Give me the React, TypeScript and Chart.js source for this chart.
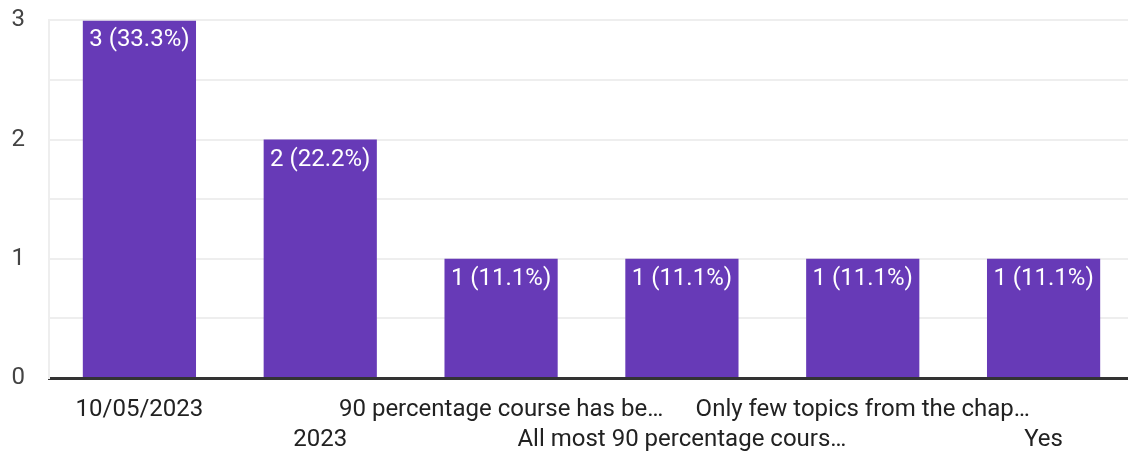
import React, { useEffect, useRef } from "react";
import { Chart, registerables } from "chart.js";

Chart.register(...registerables);

const categories: string[][] = [
  ["10/05/2023", ""],
  ["", "2023"],
  ["90 percentage course has be…", ""],
  ["", "All most 90 percentage cours…"],
  ["Only few topics from the chap…", ""],
  ["", "Yes"],
];
const counts: number[] = [3, 2, 1, 1, 1, 1];
const barLabels: string[] = ["3 (33.3%)", "2 (22.2%)", "1 (11.1%)", "1 (11.1%)", "1 (11.1%)", "1 (11.1%)"];
const yTicks: number[] = [0, 1, 2, 3];

const FONT = "Roboto, Arial, sans-serif";

const barLabelPlugin = {
  id: "barLabelPlugin",
  afterDatasetsDraw(chart: any) {
    const ctx = chart.ctx;
    const meta = chart.getDatasetMeta(0);
    ctx.save();
    ctx.fillStyle = "#ffffff";
    ctx.font = `24px ${FONT}`;
    ctx.textAlign = "center";
    ctx.textBaseline = "top";
    meta.data.forEach((el: any, i: number) => {
      ctx.fillText(barLabels[i], el.x, el.y + 8);
    });
    ctx.restore();
  },
};

export default function App() {
  const ref = useRef<HTMLCanvasElement | null>(null);
  useEffect(() => {
    if (!ref.current) return;
    const chart = new Chart(ref.current, {
      type: "bar",
      data: {
        labels: categories,
        datasets: [
          {
            data: counts,
            backgroundColor: "#673ab7",
            borderWidth: 0,
            categoryPercentage: 1,
            barPercentage: 0.626,
          },
        ],
      },
      options: {
        animation: false,
        responsive: true,
        maintainAspectRatio: false,
        layout: { padding: { top: 0, right: 0, left: 0, bottom: 0 } },
        plugins: { legend: { display: false }, tooltip: { enabled: false } },
        scales: {
          x: {
            grid: { display: false, drawTicks: false },
            border: { display: true, color: "#333333", width: 3 },
            ticks: {
              autoSkip: false,
              maxRotation: 0,
              minRotation: 0,
              padding: 17,
              color: "#222222",
              font: { family: FONT, size: 24, lineHeight: 1.25 },
            },
            afterFit: (s: any) => {
              s.height = 74;
            },
          },
          y: {
            min: 0,
            max: 3,
            grid: { color: "#eeeeee", lineWidth: 2, drawTicks: false },
            border: { display: true, color: "#eeeeee", width: 2 },
            ticks: {
              stepSize: 0.5,
              padding: 24,
              color: "#444444",
              font: { family: FONT, size: 24 },
              callback: (v: any) => (yTicks.includes(Number(v)) ? String(v) : ""),
            },
            afterFit: (s: any) => {
              s.width = 49;
            },
          },
        },
      },
      plugins: [barLabelPlugin],
    });
    return () => chart.destroy();
  }, []);
  return (
    <div style={{ position: "fixed", left: 0, top: -18, width: 1134, height: 470, background: "#fff" }}>
      <canvas ref={ref} />
    </div>
  );
}
